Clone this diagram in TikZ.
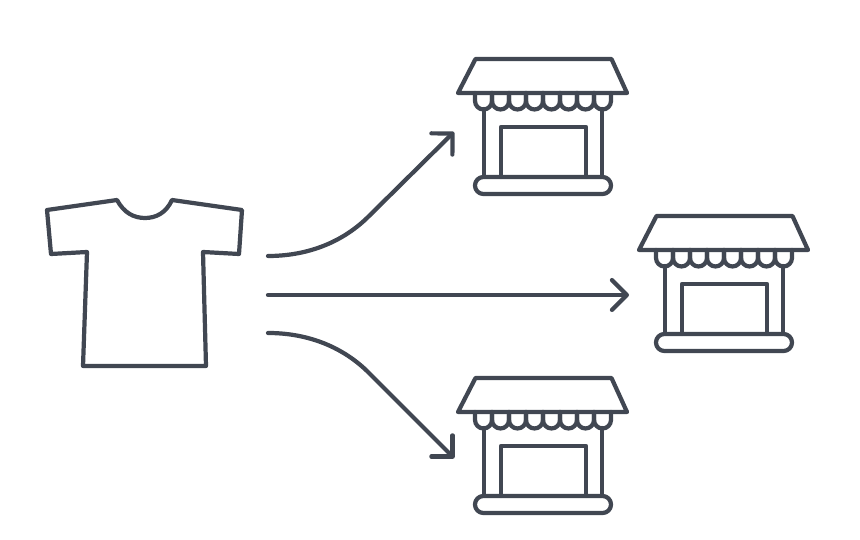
\documentclass[tikz,border=0pt]{standalone}
\usepackage{tikz}
\usetikzlibrary{arrows.meta, calc}
\definecolor{iconslate}{RGB}{65, 71, 82}

\begin{document}
\begin{tikzpicture}[
    x=0.02cm, y=-0.02cm,
    icon/.style={draw=iconslate, line width=2.4pt, line join=round, line cap=round},
    flow/.style={icon, -{Straight Barb[length=8.5pt, width=17pt, round]}},
    shop/.pic={
        % roof, awning, posts, door, base
        \draw[icon] (18.5,0) -- (154.5,0) -- (170,34) -- (1,34) -- cycle;
        \foreach \k in {0,...,7} {
            \draw[icon] ({18+17*\k},34) -- ({18+17*\k},42)
                arc[start angle=180, end angle=0, radius=8.5] -- ({35+17*\k},34);
        }
        \draw[icon] (27,50) -- (27,118);
        \draw[icon] (145,50) -- (145,118);
        \draw[icon] (44,118) -- (44,68) -- (129,68) -- (129,118);
        \draw[icon, rounded corners=4.8pt] (18,118) rectangle (154,135);
    }
]
    \useasboundingbox (0,0) rectangle (860,540);

    \draw[icon] (47,210) -- (117,200)
        .. controls (124,213) and (134,218) .. (145,218)
        .. controls (156,218) and (166,213) .. (172,200)
        -- (242,210) -- (239,254) -- (203,252) -- (206,366)
        -- (83,366) -- (87,252) -- (51,254) -- cycle;
    \coordinate (shirtup) at (268,256);
    \coordinate (shirtmid) at (268,295);
    \coordinate (shirtdown) at (268,333);

    \pic (shopup) at (457,59) {shop};
    \pic (shopmid) at (638,216) {shop};
    \pic (shopdown) at (457,378) {shop};

    \draw[flow] (shirtup) .. controls (305,256) and (340,244) .. (367,218) -- (454,132);
    \draw[flow] (shirtmid) -- (629,295);
    \draw[flow] (shirtdown) .. controls (305,333) and (340,345) .. (367,371) -- (454,458);
\end{tikzpicture}
\end{document}
